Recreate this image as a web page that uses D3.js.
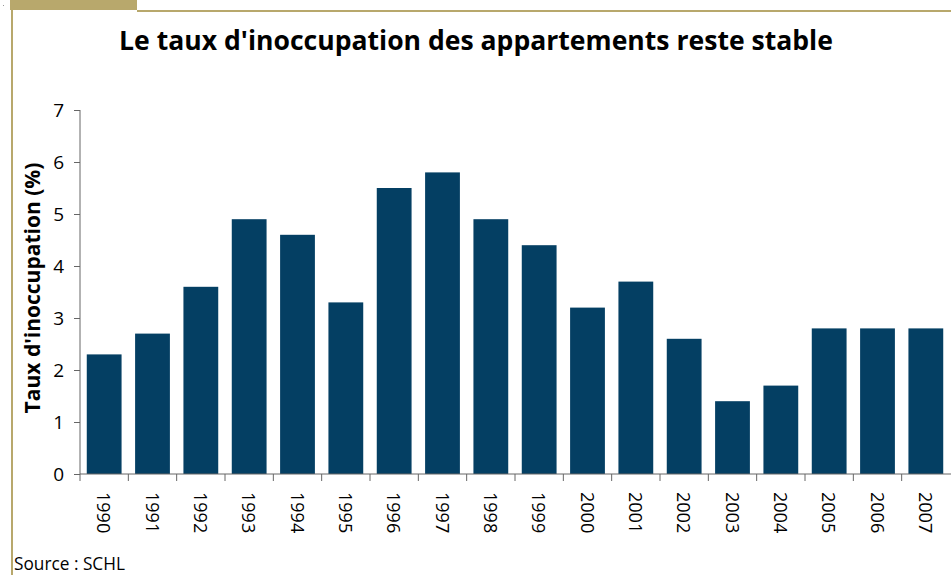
<!DOCTYPE html>
<html>
<head>
<meta charset="utf-8">
<script src="https://cdn.jsdelivr.net/npm/d3@7"></script>
<style>
  html, body { margin: 0; padding: 0; background: #fff; }
  svg { display: block; }
  text { font-family: "Open Sans", Lato, sans-serif; fill: #000; }
</style>
</head>
<body>
<script>
const years = ["1990","1991","1992","1993","1994","1995","1996","1997","1998","1999","2000","2001","2002","2003","2004","2005","2006","2007"];
const vacancyRates = [2.3, 2.7, 3.6, 4.9, 4.6, 3.3, 5.5, 5.8, 4.9, 4.4, 3.2, 3.7, 2.6, 1.4, 1.7, 2.8, 2.8, 2.8];
const yTicks = [0, 1, 2, 3, 4, 5, 6, 7];
const titleText = "Le taux d'inoccupation des appartements reste stable";
const yAxisTitle = "Taux d'inoccupation (%)";
const sourceText = "Source : SCHL";

const W = 951, H = 575;
const svg = d3.select("body").append("svg").attr("width", W).attr("height", H);

function fitWidth(sel, target, base) {
  sel.attr("font-size", base);
  const w = sel.node().getComputedTextLength();
  if (w > 0) sel.attr("font-size", base * target / w);
}

const gold = "#B8A86C";
// decorative frame
svg.append("rect").attr("x", 10).attr("y", 0).attr("width", 127).attr("height", 10).attr("fill", gold);
svg.append("rect").attr("x", 137).attr("y", 10).attr("width", W - 137).attr("height", 2).attr("fill", gold);
svg.append("rect").attr("x", 11).attr("y", 10).attr("width", 2).attr("height", H - 10).attr("fill", gold);
svg.append("rect").attr("x", 3).attr("y", 5).attr("width", 1).attr("height", 1).attr("fill", "#999");

const x0 = 80, x1 = 950, yTop = 110, yBot = 474;
const pIn = 0.28;
const x = d3.scaleBand().domain(years).range([x0, x1]).paddingInner(pIn).paddingOuter(pIn / 2);
const y = d3.scaleLinear().domain([0, 7]).range([yBot, yTop]);

// title
const t = svg.append("text").attr("x", 476).attr("y", 50).attr("text-anchor", "middle")
  .attr("font-weight", "bold").text(titleText);
fitWidth(t, 714, 24);

// bars
svg.append("g").selectAll("rect").data(years).join("rect")
  .attr("x", d => x(d))
  .attr("width", x.bandwidth())
  .attr("y", (d, i) => y(vacancyRates[i]))
  .attr("height", (d, i) => y(0) - y(vacancyRates[i]))
  .attr("fill", "#043F63");

const axisColor = "#666";

// y axis
const yAxis = svg.append("g").attr("transform", `translate(${x0},0)`)
  .call(d3.axisLeft(y).tickValues(yTicks).tickSize(6).tickPadding(10).tickFormat(d3.format("d")));
yAxis.select(".domain").attr("stroke", axisColor).attr("d", `M0,${yTop}V${yBot}`);
yAxis.selectAll(".tick line").attr("stroke", axisColor);
yAxis.selectAll(".tick text").attr("font-size", 19).attr("font-family", "Lato, sans-serif").attr("fill", "#000");

// x axis
const xAxis = svg.append("g").attr("transform", `translate(0,${yBot})`)
  .call(d3.axisBottom(x).tickSize(0).tickFormat(""));
xAxis.select(".domain").attr("stroke", axisColor).attr("d", `M${x0},0H${W}`);
const offset = x.step() * x.paddingOuter();
xAxis.selectAll(".bound").data(years).join("line").attr("class", "bound")
  .attr("x1", d => x(d) - offset).attr("x2", d => x(d) - offset)
  .attr("y1", 0).attr("y2", 7).attr("stroke", axisColor);
xAxis.selectAll(".ylab").data(years).join("text").attr("class", "ylab")
  .attr("transform", d => `translate(${x(d) + x.bandwidth() / 2},18) rotate(90)`)
  .attr("text-anchor", "start").attr("dominant-baseline", "central")
  .attr("font-family", "Lato, sans-serif")
  .attr("font-size", 18).text(d => d);

// y title
const yt = svg.append("text").attr("transform", `translate(40,288) rotate(-90)`)
  .attr("text-anchor", "middle")
  .attr("font-weight", "bold").text(yAxisTitle);
fitWidth(yt, 251, 18);

// source
const s = svg.append("text").attr("x", 14).attr("y", 570).text(sourceText);
fitWidth(s, 111, 16);
</script>
</body>
</html>
